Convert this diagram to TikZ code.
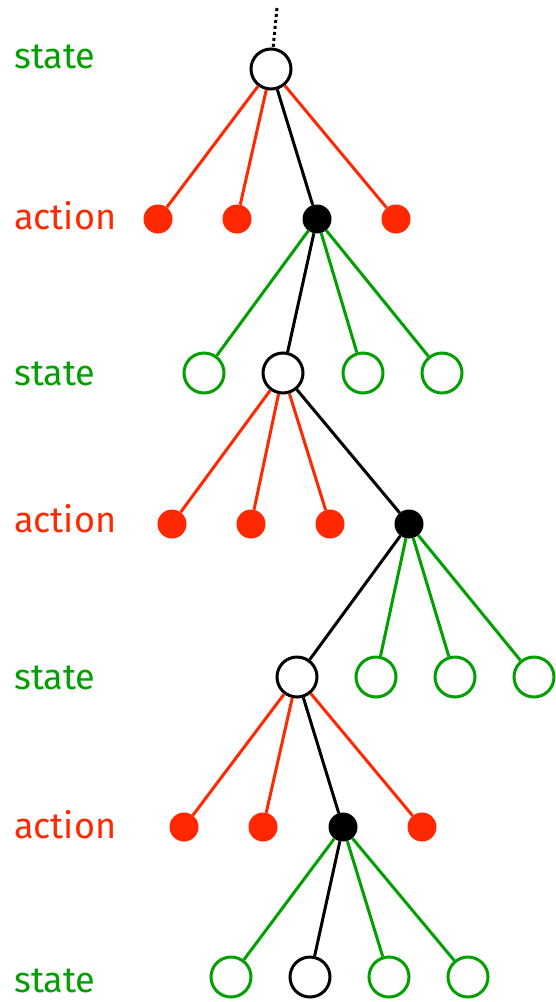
\documentclass[tikz,border=0pt]{standalone}
\usepackage{fontspec}
\setmainfont{Fira Sans}
\definecolor{tgreen}{RGB}{0,160,0}
\definecolor{tred}{RGB}{255,40,0}
\begin{document}
\begin{tikzpicture}[x=1pt,y=-1pt,
  st/.style={circle,draw=#1,fill=white,line width=3pt,minimum size=40pt,inner sep=0pt},
  st/.default=tgreen,
  act/.style={circle,fill=#1,minimum size=29pt,inner sep=0pt},
  act/.default=tred,
  ge/.style={tgreen,line width=3pt},
  re/.style={tred,line width=3pt},
  be/.style={black,line width=3pt},
  lab/.style={anchor=west,font=\fontsize{36}{36}\selectfont,inner sep=0pt}]
\useasboundingbox (0,0) rectangle (556,1002);
% labels
\node[lab,text=tgreen] (l1) at (14,57) {state};
\node[lab,text=tred] (l2) at (14,216) {action};
\node[lab,text=tgreen] (l3) at (14,374) {state};
\node[lab,text=tred] (l4) at (14,519) {action};
\node[lab,text=tgreen] (l5) at (14,678) {state};
\node[lab,text=tred] (l6) at (14,825) {action};
\node[lab,text=tgreen] (l7) at (14,981) {state};
% level 1
\coordinate (top) at (277,8);
\node[st=black] (s0) at (271,69) {};
\node[act] (a1) at (158,219) {};
\node[act] (a2) at (237,219) {};
\node[act=black] (a3) at (317,219) {};
\node[act] (a4) at (396,219) {};
% level 2
\node[st] (b1) at (204,373) {};
\node[st=black] (b2) at (283,373) {};
\node[st] (b3) at (363,373) {};
\node[st] (b4) at (442,373) {};
% level 3
\node[act] (c1) at (172,524) {};
\node[act] (c2) at (251,524) {};
\node[act] (c3) at (330,524) {};
\node[act=black] (c4) at (409,524) {};
% level 4
\node[st=black] (d1) at (297,677) {};
\node[st] (d2) at (376,677) {};
\node[st] (d3) at (455,677) {};
\node[st] (d4) at (534,677) {};
% level 5
\node[act] (e1) at (184,827) {};
\node[act] (e2) at (263,827) {};
\node[act=black] (e3) at (343,827) {};
\node[act] (e4) at (422,827) {};
% level 6
\node[st] (f1) at (231,977) {};
\node[st=black] (f2) at (310,977) {};
\node[st] (f3) at (389,977) {};
\node[st] (f4) at (468,977) {};
% edges
\draw[black,line width=3pt,dash pattern=on 3pt off 3pt] (top) -- (s0);
\draw[re] (s0) -- (a1); \draw[re] (s0) -- (a2); \draw[re] (s0) -- (a4); \draw[be] (s0) -- (a3);
\draw[ge] (a3) -- (b1); \draw[ge] (a3) -- (b3); \draw[ge] (a3) -- (b4); \draw[be] (a3) -- (b2);
\draw[re] (b2) -- (c1); \draw[re] (b2) -- (c2); \draw[re] (b2) -- (c3); \draw[be] (b2) -- (c4);
\draw[ge] (c4) -- (d2); \draw[ge] (c4) -- (d3); \draw[ge] (c4) -- (d4); \draw[be] (c4) -- (d1);
\draw[re] (d1) -- (e1); \draw[re] (d1) -- (e2); \draw[re] (d1) -- (e4); \draw[be] (d1) -- (e3);
\draw[ge] (e3) -- (f1); \draw[ge] (e3) -- (f3); \draw[ge] (e3) -- (f4); \draw[be] (e3) -- (f2);
\end{tikzpicture}
\end{document}
